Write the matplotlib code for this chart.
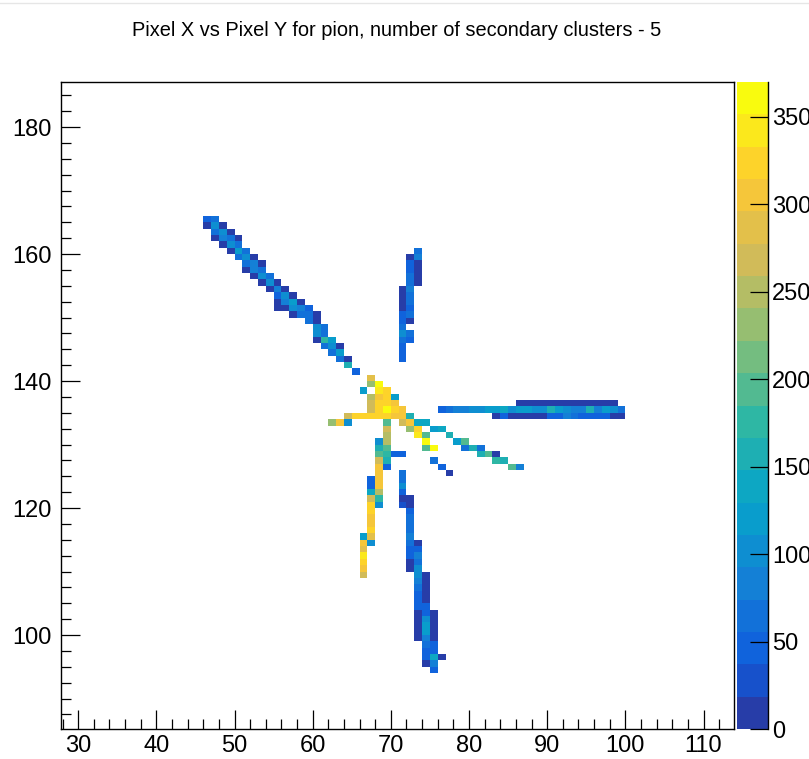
import numpy as np
import matplotlib
matplotlib.use('Agg')
import matplotlib.pyplot as plt
from matplotlib.colors import LinearSegmentedColormap, ListedColormap, BoundaryNorm
from matplotlib.ticker import MultipleLocator

# cells as (pixel x, pixel y, counts), one list per track
upper_diag = [
    (46, 165, 50), (47, 165, 60),
    (46, 164, 12), (47, 164, 110), (48, 164, 14),
    (47, 163, 70), (48, 163, 105), (49, 163, 12),
    (47, 162, 14), (48, 162, 75), (49, 162, 60), (50, 162, 12),
    (48, 161, 12), (49, 161, 95), (50, 161, 70),
    (49, 160, 12), (50, 160, 115), (51, 160, 65),
    (50, 159, 60), (51, 159, 100), (52, 159, 14),
    (51, 158, 70), (52, 158, 90), (53, 158, 12),
    (51, 157, 12), (52, 157, 75), (53, 157, 65),
    (52, 156, 12), (53, 156, 100), (54, 156, 65),
    (53, 155, 14), (54, 155, 105), (55, 155, 12),
    (54, 154, 12), (55, 154, 85), (56, 154, 12),
    (55, 153, 55), (56, 153, 100), (57, 153, 12),
    (55, 152, 12), (56, 152, 80), (57, 152, 115), (58, 152, 12),
    (55, 151, 12), (56, 151, 12), (57, 151, 110), (58, 151, 90), (59, 151, 55),
    (57, 150, 12), (58, 150, 65), (59, 150, 60), (60, 150, 12),
    (59, 149, 60), (60, 149, 12),
    (60, 148, 95), (61, 148, 60),
    (60, 147, 110), (61, 147, 65),
    (60, 146, 12), (61, 146, 170), (62, 146, 125),
    (61, 145, 60), (62, 145, 110), (63, 145, 12),
    (62, 144, 60), (63, 144, 120),
    (63, 143, 70), (64, 143, 12),
    (64, 142, 150),
    (65, 141, 50),
]

upper_vert = [
    (73, 160, 65),
    (72, 159, 12), (73, 159, 80),
    (72, 158, 50), (73, 158, 14),
    (72, 157, 55), (73, 157, 12),
    (72, 156, 70), (73, 156, 12),
    (72, 155, 65), (73, 155, 12),
    (71, 154, 12), (72, 154, 75),
    (71, 153, 12), (72, 153, 70),
    (71, 152, 12), (72, 152, 60),
    (71, 151, 12), (72, 151, 55),
    (71, 150, 50), (72, 150, 70),
    (71, 149, 55), (72, 149, 12),
    (71, 148, 65),
    (71, 147, 95), (72, 147, 70),
    (71, 146, 60), (72, 146, 55),
    (71, 145, 55), (71, 144, 50), (71, 143, 55),
]

# horizontal track, three rows: (row y, first x, counts)
horiz_top = (136, 86, [12, 14, 12, 10, 12, 15, 12, 12, 10, 12, 14, 12, 12])
horiz_mid = (135, 76, [55, 70, 75, 75, 110, 110, 115, 120, 145, 110, 115, 115,
                       105, 95, 160, 120, 110, 90, 85, 165, 85, 120, 110, 60])
horiz_low = (134, 83, [12, 40, 12, 12, 10, 12, 12, 40, 50, 80, 60, 45, 50, 50,
                       50, 14, 12])

core = [
    (67, 140, 290),
    (67, 139, 235), (68, 139, 365),
    (66, 138, 115), (68, 138, 350), (69, 138, 325),
    (67, 137, 255), (68, 137, 300), (69, 137, 330), (70, 137, 120),
    (67, 136, 270), (68, 136, 315), (69, 136, 320), (70, 136, 300),
    (67, 135, 275), (68, 135, 315), (69, 135, 360), (70, 135, 320), (71, 135, 305),
    (64, 134, 270), (65, 134, 320), (66, 134, 315), (67, 134, 315), (68, 134, 320),
    (69, 134, 315), (70, 134, 310), (71, 134, 300), (72, 134, 160),
    (62, 133, 240), (63, 133, 305), (64, 133, 100), (69, 133, 185),
    (71, 133, 270), (72, 133, 300), (73, 133, 130), (74, 133, 130),
    (69, 132, 270), (72, 132, 235), (73, 132, 320), (75, 132, 120), (76, 132, 130),
    (69, 131, 255), (73, 131, 340), (74, 131, 190), (77, 131, 150),
    (68, 130, 110), (69, 130, 245), (74, 130, 360), (78, 130, 120), (79, 130, 190),
    (68, 129, 150), (69, 129, 200), (74, 129, 195), (75, 129, 365),
    (79, 129, 60), (80, 129, 150), (81, 129, 60),
    (68, 128, 190), (69, 128, 175), (70, 128, 50), (71, 128, 55),
    (81, 128, 150), (82, 128, 185), (83, 128, 14),
    (68, 127, 260), (69, 127, 165), (75, 127, 60), (83, 127, 175), (84, 127, 150),
    (68, 126, 300), (69, 126, 55), (76, 126, 55), (85, 126, 200), (86, 126, 85),
    (68, 125, 310), (77, 125, 12),
]

lower_left = [
    (67, 124, 55), (68, 124, 300),
    (67, 123, 50), (68, 123, 310),
    (67, 122, 140), (68, 122, 255),
    (67, 121, 275), (68, 121, 175),
    (67, 120, 320), (68, 120, 105),
    (67, 119, 330), (67, 118, 310), (67, 117, 310), (67, 116, 325),
    (66, 115, 120), (67, 115, 285),
    (66, 114, 300), (67, 114, 110),
    (66, 113, 285), (66, 112, 335), (66, 111, 320), (66, 110, 310), (66, 109, 265),
]

lower_right = [
    (71, 125, 60), (71, 124, 70), (71, 123, 95), (71, 122, 40), (71, 121, 14), (71, 120, 30),
    (72, 121, 12), (72, 120, 12), (72, 119, 55), (72, 118, 70), (72, 117, 65),
    (72, 116, 70), (72, 115, 90), (72, 114, 70), (72, 113, 55), (72, 112, 45),
    (72, 111, 14), (72, 110, 12),
    (73, 114, 14), (73, 113, 45), (73, 112, 90), (73, 111, 70), (73, 110, 100),
    (73, 109, 110), (73, 108, 85), (73, 107, 70), (73, 106, 55), (73, 105, 50),
    (73, 104, 40), (73, 103, 12), (73, 102, 12), (73, 101, 14), (73, 100, 12), (73, 99, 12),
    (74, 109, 12), (74, 108, 12), (74, 107, 14), (74, 106, 12), (74, 105, 14),
    (74, 104, 50), (74, 103, 45), (74, 102, 110), (74, 101, 120), (74, 100, 115),
    (74, 99, 75), (74, 98, 65), (74, 97, 55), (74, 96, 50), (74, 95, 12),
    (75, 103, 12), (75, 102, 12), (75, 101, 12), (75, 100, 12), (75, 99, 14),
    (75, 98, 55), (75, 97, 45), (75, 96, 130), (75, 95, 90), (75, 94, 55),
    (76, 96, 12),
]

title = "Pixel X vs Pixel Y for pion, number of secondary clusters - 5"
z_max = 370
n_levels = 20

cells = upper_diag + upper_vert + core + lower_left + lower_right
for row_y, x0, vals in (horiz_top, horiz_mid, horiz_low):
    cells += [(x0 + i, row_y, v) for i, v in enumerate(vals)]
xs = np.array([c[0] for c in cells], float) + 0.5
ys = np.array([c[1] for c in cells], float) + 0.5
ws = np.array([c[2] for c in cells], float)

x_edges = np.arange(28, 115)
y_edges = np.arange(85, 188)
H, _, _ = np.histogram2d(xs, ys, bins=[x_edges, y_edges], weights=ws)
H = np.ma.masked_equal(H.T, 0)

# ROOT kBird palette, 20 contour levels
stops = [0.0, 0.125, 0.25, 0.375, 0.5, 0.625, 0.75, 0.875, 1.0]
red = [0.2082, 0.0592, 0.0780, 0.0232, 0.1802, 0.5301, 0.8186, 0.9956, 0.9764]
green = [0.1664, 0.3599, 0.5041, 0.6419, 0.7178, 0.7492, 0.7328, 0.7862, 0.9832]
blue = [0.5293, 0.8684, 0.8385, 0.7914, 0.6425, 0.4662, 0.3499, 0.1968, 0.0539]
bird = LinearSegmentedColormap.from_list(
    'bird', list(zip(stops, zip(red, green, blue))), N=255)
lvl_cols = [bird(int((i + 0.99) * 255 / n_levels) / 254) for i in range(n_levels)]
lvl_cmap = ListedColormap(lvl_cols)
levels = np.linspace(0, z_max, n_levels + 1)
norm = BoundaryNorm(levels, n_levels)

plt.rcParams['font.family'] = ['Liberation Sans', 'DejaVu Sans']
fig = plt.figure(figsize=(8.09, 7.59), dpi=100)
ax = fig.add_axes([61 / 809, 1 - 729 / 759, 673 / 809, 647 / 759])
ax.pcolormesh(x_edges, y_edges, H, cmap=lvl_cmap, norm=norm)
ax.set_xlim(27.8, 113.9)
ax.set_ylim(85.2, 187.1)
ax.xaxis.set_major_locator(MultipleLocator(10))
ax.xaxis.set_minor_locator(MultipleLocator(2))
ax.yaxis.set_major_locator(MultipleLocator(20))
ax.yaxis.set_minor_locator(MultipleLocator(2.5))
ax.tick_params(which='both', direction='in', width=0.9, labelsize=17)
ax.tick_params(which='major', length=14)
ax.tick_params(which='minor', length=7)
ax.tick_params(axis='x', pad=4)
ax.tick_params(axis='y', pad=7)
for sp in ax.spines.values():
    sp.set_linewidth(1.0)

cax = fig.add_axes([737 / 809, 1 - 729 / 759, 31 / 809, 647 / 759])
cax.pcolormesh([0, 1], levels, (levels[:-1] + z_max / n_levels / 2).reshape(-1, 1),
               cmap=lvl_cmap, norm=norm)
cax.set_xlim(0, 1)
cax.set_ylim(0, z_max)
cax.set_xticks([])
cax.yaxis.tick_right()
cax.set_yticks(range(0, 351, 50))
cax.tick_params(axis='y', direction='in', length=13, width=0.9, labelsize=17, pad=3)
for side in ['left', 'top', 'bottom']:
    cax.spines[side].set_visible(False)
cax.spines['right'].set_linewidth(1.0)

fig.text(397 / 809, 1 - 30 / 759, title, ha='center', va='center', fontsize=14.4)
fig.add_artist(plt.Line2D([0, 1], [1 - 2.5 / 759] * 2, color='#e6e6e6', lw=1))

fig.savefig('out.png', dpi=100)
